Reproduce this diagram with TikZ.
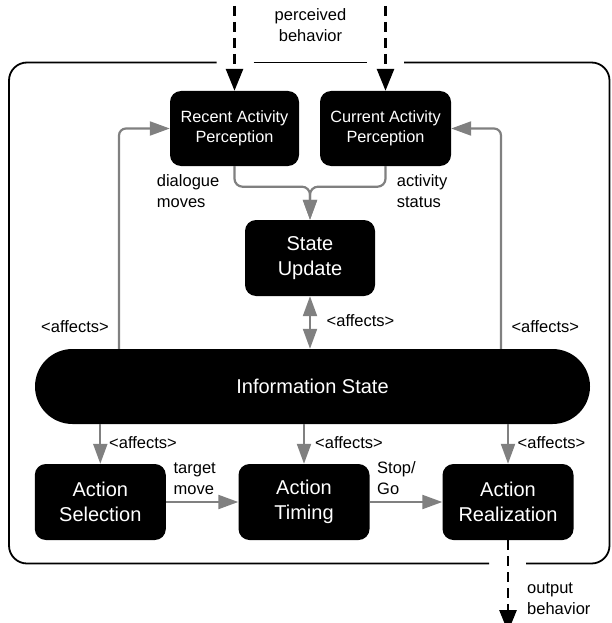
\documentclass[tikz,border=0pt]{standalone}
\usepackage{fontspec}
\setmainfont{Liberation Sans}
\usetikzlibrary{arrows.meta}
\begin{document}
\begin{tikzpicture}[x=1pt,y=-1pt,
  box/.style={fill=black,text=white,rounded corners=11pt,minimum width=130pt,minimum height=75pt,align=center,inner sep=0pt},
  smallbox/.style={box,font=\fontsize{16.3}{20}\selectfont},
  bigbox/.style={box,font=\fontsize{20}{24.6}\selectfont,minimum height=76pt},
  lbl/.style={font=\fontsize{16.5}{21}\selectfont,inner sep=0pt,align=left,anchor=west},
  lblb/.style={font=\fontsize{16.5}{21}\selectfont,inner sep=0pt},
  garrow/.style={draw=gray,line width=2.2pt,-{Triangle[length=20pt,width=14pt]}},
  gdouble/.style={draw=gray,line width=2.2pt,{Triangle[length=20pt,width=14pt]}-{Triangle[length=20pt,width=14pt]}},
  dasharrow/.style={draw=black,line width=2.8pt,dash pattern=on 10pt off 6pt,-{Triangle[length=22pt,width=17pt]}},
  frame/.style={draw=black,line width=1.8pt,rounded corners=18pt}
]
\clip (0,0) rectangle (611,623);

% outer frame with gaps for the dashed arrows
\draw[frame] (216.5,62.5) -- (9,62.5) -- (9,563.5) -- (489,563.5);
\draw[frame] (253.5,62.5) -- (367,62.5);
\draw[frame] (404,62.5) -- (609.5,62.5) -- (609.5,563.5) -- (526,563.5);

% nodes
\node[smallbox, minimum width=129pt] (rap) at (234.5,128.5) {Recent Activity\\Perception};
\node[smallbox, minimum width=131pt] (cap) at (385.5,128.5) {Current Activity\\Perception};
\node[bigbox] (su) at (310,258) {State\\Update};
\node[bigbox, minimum width=555pt, minimum height=75pt, rounded corners=37.5pt] (info) at (312.5,386.5) {Information State};
\node[bigbox, minimum width=131pt] (sel) at (100.3,502) {Action\\Selection};
\node[bigbox, minimum width=131pt] (tim) at (304,502) {Action\\Timing};
\node[bigbox, minimum width=131pt] (real) at (508,502) {Action\\Realization};

% helper coordinates
\coordinate (top) at (0,0);
\coordinate (bot) at (0,632);
\coordinate (lx) at (119,386);
\coordinate (rx) at (501,386);
\coordinate (mj) at (310,186.7);

% dashed in/out arrows
\draw[dasharrow, dash phase=10pt] (rap.north |- top) -- (rap.north);
\draw[dasharrow, dash phase=10pt] (cap.north |- top) -- (cap.north);
\draw[dasharrow] (real.south) -- (real.south |- bot);

% gray connectors
\draw[garrow, rounded corners=7pt] (lx |- info.north) |- (rap.west);
\draw[garrow, rounded corners=7pt] (rx |- info.north) |- (cap.east);
\draw[garrow, rounded corners=8pt] (rap.south) |- (mj) -- (su.north);
\draw[garrow, rounded corners=8pt] (cap.south) |- (mj) -- (su.north);
\draw[gdouble] (su.south) -- (su.south |- info.north);
\draw[garrow] (info.south -| sel.north) -- (sel.north);
\draw[garrow] (info.south -| tim.north) -- (tim.north);
\draw[garrow] (info.south -| real.north) -- (real.north);
\draw[garrow] (sel.east) -- (tim.west);
\draw[garrow] (tim.east) -- (real.west);

% labels
\node[lblb, align=center] (perc) at (310.5,25.2) {perceived\\behavior};
\node[lbl] (dm) at (156.7,191.6) {dialogue\\moves};
\node[lbl] (as) at (396.7,191.6) {activity\\status};
\node[lblb, anchor=base] (aff1) at (75,332) {<affects>};
\node[lblb, anchor=base] (aff2) at (360.5,326.6) {<affects>};
\node[lblb, anchor=base] (aff3) at (545.3,332) {<affects>};
\node[lblb, anchor=base west] (aff4) at (109,448) {<affects>};
\node[lblb, anchor=base west] (aff5) at (315,448) {<affects>};
\node[lblb, anchor=base west] (aff6) at (517.5,448) {<affects>};
\node[lbl] (tm) at (173.4,478.6) {target\\move};
\node[lbl] (sg) at (377,478.1) {Stop/\\Go};
\node[lbl] (ob) at (527,599) {output\\behavior};
\end{tikzpicture}
\end{document}
